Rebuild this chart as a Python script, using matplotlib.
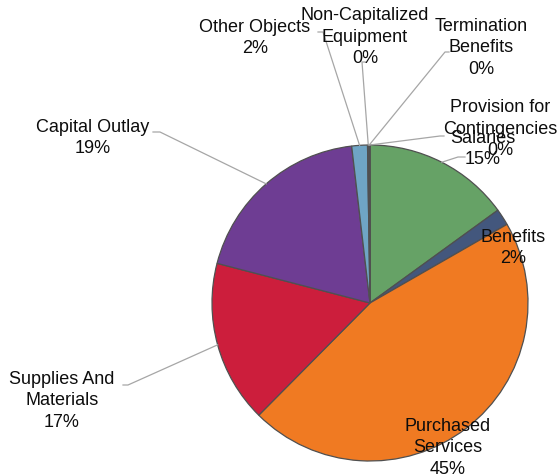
import numpy as np
import matplotlib
matplotlib.use("Agg")
import matplotlib.pyplot as plt

plt.rcParams['font.family'] = ['Liberation Sans', 'DejaVu Sans']

# data
categories = ["Salaries", "Benefits", "Purchased\nServices", "Supplies And\nMaterials",
              "Capital Outlay", "Other Objects", "Non-Capitalized\nEquipment",
              "Termination\nBenefits", "Provision for\nContingencies"]
values = [15.0, 1.7, 45.7, 16.6, 19.1, 1.6, 0.15, 0.05, 0.05]
pct_labels = ["15%", "2%", "45%", "17%", "19%", "2%", "0%", "0%", "0%"]
colors = ["#66a266", "#43577d", "#f07a22", "#cc1e3c", "#6e3d93", "#6fa5c5",
          "#5b8fb0", "#a0a0a0", "#808080"]

W, H = 559, 477
fig = plt.figure(figsize=(W / 100, H / 100), dpi=100)
ax = fig.add_axes([0, 0, 1, 1])

cx, cy, r = 370, H - 304, 158
wedges, _ = ax.pie(values, colors=colors, startangle=90, counterclock=False,
                   center=(cx, cy), radius=r, frame=True,
                   wedgeprops=dict(edgecolor="#505050", linewidth=0.9))
ax.set_xlim(0, W)
ax.set_ylim(0, H)
ax.set_aspect("equal")
ax.axis("off")

# label placement in pixel coords (x, y from top), elbow and anchor of leader line
label_pos = [(483, 149), (513, 248), (448, 448), (62, 401), (93, 138),
             (255, 38), (365, 37), (481, 48), (500, 129)]
leaders = {
    0: [(458, 158), (465, 158)],
    3: [(128, 386), (123, 386)],
    4: [(160, 133), (153, 133)],
    5: [(323, 33), (318, 33)],
    6: [(362, 63), (366, 63)],
    7: [(445, 53), (449, 53)],
    8: [(440, 137), (444, 137)],
}

for i, w in enumerate(wedges):
    mid = np.deg2rad((w.theta1 + w.theta2) / 2)
    px, py = cx + r * np.cos(mid), cy + r * np.sin(mid)
    if i in leaders:
        pts = [(px, py)] + [(x, H - y) for x, y in leaders[i]]
        xs, ys = zip(*pts)
        ax.plot(xs, ys, color="#a6a6a6", lw=0.9, zorder=3)
    lx, ly = label_pos[i]
    ax.text(lx, H - ly, categories[i] + "\n" + pct_labels[i], ha="center", va="center",
            fontsize=13, linespacing=1.32, color="#0d0d0d", zorder=4)

fig.savefig("out.png", dpi=100)
